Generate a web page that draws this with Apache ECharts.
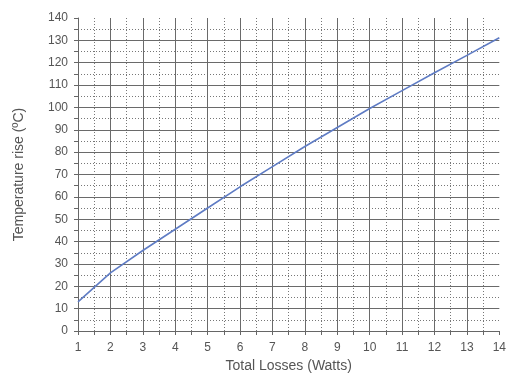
<!DOCTYPE html>
<html><head><meta charset="utf-8">
<script src="https://cdn.jsdelivr.net/npm/echarts@6/dist/echarts.min.js"></script>
<style>html,body{margin:0;padding:0;background:#fff}#c{width:509px;height:378px}</style>
</head><body><div id="c"></div>
<script>
const losses = [1,2,3,4,5,6,7,8,9,10,11,12,13,14];
const tempRise = [13,26,36,45.5,55,64.5,73.5,82.5,91,99.5,107.5,115.5,123.3,131.2];
const xTitle = 'Total Losses (Watts)';
const yTitle = 'Temperature rise (ºC)';

const chart = echarts.init(document.getElementById('c'));
const txt = '#555';
const axisCol = '#666';
chart.setOption({
  animation:false,
  grid:{left:78,right:7,top:18,bottom:47,containLabel:false},
  xAxis:{
    type:'value',min:1,max:14,interval:1,
    name:xTitle,nameLocation:'middle',nameGap:25,
    nameTextStyle:{color:txt,fontSize:14,fontFamily:'Liberation Sans, Arial'},
    axisLine:{lineStyle:{color:axisCol,width:1}},
    axisTick:{show:true,length:4,lineStyle:{color:axisCol}},
    minorTick:{show:true,splitNumber:2,length:4,lineStyle:{color:axisCol}},
    axisLabel:{color:txt,fontSize:12,margin:11,fontFamily:'Liberation Sans, Arial'},
    splitLine:{show:true,showMinLine:false,showMaxLine:false,lineStyle:{color:'#6a6a6a',width:1}},
    minorSplitLine:{show:true,lineStyle:{color:'#777',type:[1,2],width:1}}
  },
  yAxis:{
    type:'value',min:0,max:140,interval:10,
    name:yTitle,nameLocation:'middle',nameGap:52,nameRotate:90,
    nameTextStyle:{color:txt,fontSize:14,fontFamily:'Liberation Sans, Arial'},
    axisLine:{show:true,lineStyle:{color:axisCol,width:1}},
    axisTick:{show:true,length:4,lineStyle:{color:axisCol}},
    minorTick:{show:true,splitNumber:2,length:4,lineStyle:{color:axisCol}},
    axisLabel:{color:txt,fontSize:12,margin:10,fontFamily:'Liberation Sans, Arial'},
    splitLine:{show:true,showMinLine:false,showMaxLine:false,lineStyle:{color:'#6a6a6a',width:1}},
    minorSplitLine:{show:true,lineStyle:{color:'#777',type:[1,2],width:1}}
  },
  series:[{
    type:'line',
    data:losses.map((x,i)=>[x,tempRise[i]]),
    showSymbol:false,smooth:false,
    lineStyle:{color:'#5f7cc4',width:1.6}
  }]
});
</script></body></html>
